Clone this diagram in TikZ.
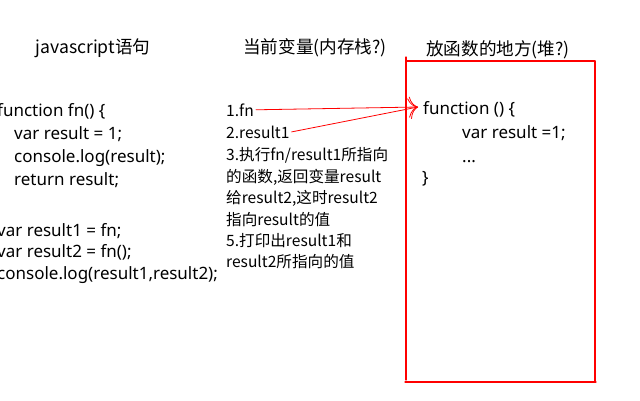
\documentclass[tikz,border=0pt]{standalone}
\usepackage{fontspec}
\setmainfont{Noto Sans}
\newfontfamily\cjk{Noto Sans CJK SC}
\usetikzlibrary{arrows.meta}
\tikzset{
  code/.style={anchor=base west, inner sep=2pt, font=\fontsize{17}{20}\selectfont},
  note/.style={anchor=base west, inner sep=2pt, font=\cjk\fontsize{15.6}{18}\selectfont},
  heading/.style={anchor=base, inner sep=2pt, font=\cjk\fontsize{17.6}{20}\selectfont},
  wall/.style={red, line width=1.2pt},
}
\begin{document}
\begin{tikzpicture}[x=1pt, y=-1pt, >={To[length=9pt,width=21pt]}, line cap=round]
\useasboundingbox (0,0) rectangle (640,400);
% Tiêu đề ba cột
\node[heading] (hjs) at (93,53) {javascript语句};
\node[heading] (hstack) at (315,53) {当前变量(内存栈?)};
\node[heading] (hheap) at (498,55) {放函数的地方(堆?)};

% Cột trái: mã javascript
\node[code] (c1) at (-5,116) {function fn() \{};
\node[code] (c2) at (12,139) {var result = 1;};
\node[code] (c3) at (12,162) {console.log(result);};
\node[code] (c4) at (12,185) {return result;};
\node[code] (c5) at (-5,236) {var result1 = fn;};
\node[code] (c6) at (-5,257) {var result2 = fn();};
\node[code] (c7) at (-5,279) {console.log(result1,result2);};

% Cột giữa: các biến
\node[note] (n1) at (224,116) {1.fn};
\node[note] (n2) at (224,138) {2.result1};
\node[note] (n3) at (224,160.5) {3.执行fn/result1所指向};
\node[note] (n4) at (224,182) {的函数,返回变量result};
\node[note] (n5) at (224,203.5) {给result2,这时result2};
\node[note] (n6) at (224,225) {指向result的值};
\node[note] (n7) at (224,246) {5.打印出result1和};
\node[note] (n8) at (224,267.5) {result2所指向的值};

% Khung bên phải (heap)
\draw[wall] (406,57) -- (406,380);
\draw[wall] (406,61) -- (595,61);
\draw[wall] (595,61) -- (595,382);
\draw[wall] (405,382) -- (596,382);

\node[code] (f1) at (421,114) {function () \{};
\node[code] (f2) at (460,138) {var result =1;};
\node[code] (f3) at (460,162) {...};
\node[code] (f4) at (420,183) {\}};

% Mũi tên chỉ tới hàm
\coordinate (tip) at (418,107);
\draw[->, red, line width=0.8pt] (n1.east) -- (tip);
\draw[->, red, line width=0.8pt] (n2.east) -- (tip);
\end{tikzpicture}
\end{document}
